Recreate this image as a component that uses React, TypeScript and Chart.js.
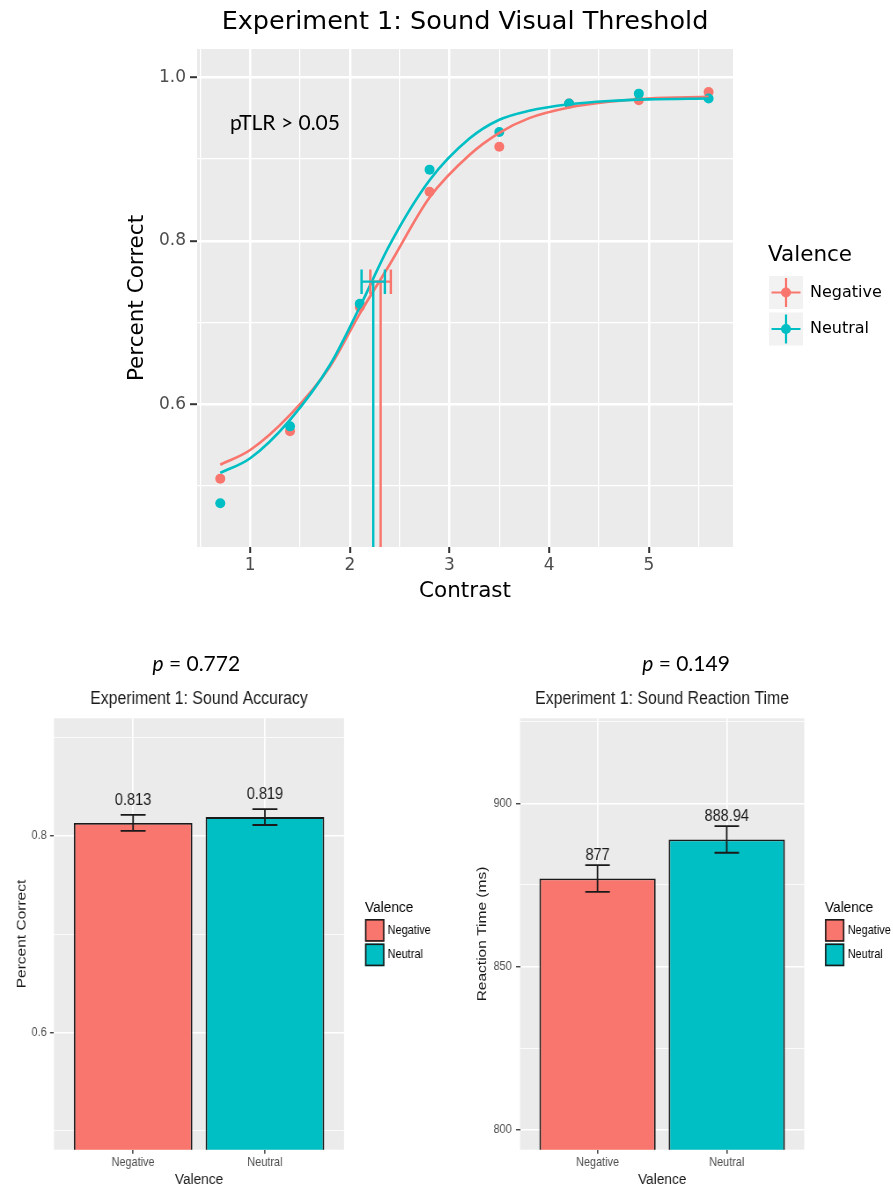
import React, { useEffect, useRef } from 'react';
import { Chart, registerables } from 'chart.js';

Chart.register(...registerables);

// ---------- shared ----------
const NEG = '#F8766D';
const NEU = '#00BFC4';
const groupNames = ['Negative', 'Neutral'];
const groupColors = [NEG, NEU];

const DJ = "'DejaVu Sans', sans-serif";
const LS = "'Liberation Sans', Arial, sans-serif";
const LATO = "Lato, 'Open Sans', sans-serif";

// ---------- top chart data (psychometric threshold) ----------
const contrastLevels = [0.7, 1.4, 2.1, 2.8, 3.5, 4.2, 4.9, 5.6];
const negativeCorrect = [0.509, 0.567, 0.719, 0.860, 0.915, 0.968, 0.972, 0.982];
const neutralCorrect = [0.479, 0.573, 0.723, 0.887, 0.933, 0.968, 0.980, 0.974];

const fitContrast = [0.7, 1.0, 1.4, 1.8, 2.1, 2.4, 2.8, 3.2, 3.5, 3.8, 4.2, 4.6, 5.0, 5.6];
const negativeFit = [0.526, 0.544, 0.587, 0.646, 0.711, 0.771, 0.853, 0.905, 0.932, 0.950, 0.963, 0.970, 0.974, 0.976];
const neutralFit = [0.516, 0.534, 0.581, 0.648, 0.719, 0.795, 0.874, 0.925, 0.948, 0.959, 0.967, 0.971, 0.973, 0.974];

const thresholdLevel = 0.75;
const thresholdValue = [2.309, 2.235];
const thresholdLow = [2.206, 2.118];
const thresholdHigh = [2.412, 2.352];
const thresholdCapHalf = 0.015;

const contrastMin = 0.4664;
const contrastMax = 5.845;
const contrastTicks = [0.5, 1, 1.5, 2, 2.5, 3, 3.5, 4, 4.5, 5, 5.5];
const contrastTickLabels = ['', '1', '', '2', '', '3', '', '4', '', '5', ''];
const correctMin = 0.4254;
const correctMax = 1.0346;
const correctTicks = [0.5, 0.6, 0.7, 0.8, 0.9, 1.0];
const correctTickLabels = ['', '0.6', '', '0.8', '', '1.0'];

// ---------- bottom charts data ----------
const valenceTicks = [1, 2];
const valenceMin = 0.4;
const valenceMax = 2.6;
const errCapHalf = 0.095;

const accuracyMeans = [0.813, 0.819];
const accuracySE = [0.0081, 0.0081];
const accuracyText = ['0.813', '0.819'];
const accuracyMin = 0.48057;
const accuracyMax = 0.91943;
const accuracyTicks = [0.5, 0.6, 0.7, 0.8, 0.9];
const accuracyTickLabels = ['', '0.6', '', '0.8', ''];

const rtMeans = [877, 888.94];
const rtSE = [4.1, 4.08];
const rtText = ['877', '888.94'];
const rtMin = 793.97;
const rtMax = 926.02;
const rtTicks = [800, 825, 850, 875, 900, 925];
const rtTickLabels = ['800', '', '850', '', '900', ''];

// ---------- helpers ----------
const pts = (xs: number[], ys: number[]) => xs.map((x, i) => ({ x, y: ys[i] }));

function thresholdPath(i: number) {
  const t = thresholdValue[i];
  const lo = thresholdLow[i];
  const hi = thresholdHigh[i];
  const l = thresholdLevel;
  const h = thresholdCapHalf;
  const gap = { x: t, y: null as any };
  return [
    { x: t, y: correctMin }, { x: t, y: l }, gap,
    { x: lo, y: l }, { x: hi, y: l }, gap,
    { x: lo, y: l - h }, { x: lo, y: l + h }, gap,
    { x: hi, y: l - h }, { x: hi, y: l + h },
  ];
}

function errPath(means: number[], se: number[]) {
  const out: any[] = [];
  valenceTicks.forEach((x, i) => {
    const hi = means[i] + se[i];
    const lo = means[i] - se[i];
    const gap = { x, y: null };
    out.push({ x: x - errCapHalf, y: hi }, { x: x + errCapHalf, y: hi }, gap);
    out.push({ x, y: hi }, { x, y: lo }, gap);
    out.push({ x: x - errCapHalf, y: lo }, { x: x + errCapHalf, y: lo }, gap);
  });
  return out;
}

const panelBg = {
  id: 'panelBg',
  beforeDraw(chart: any) {
    const { ctx, chartArea: a } = chart;
    ctx.save();
    ctx.fillStyle = '#EBEBEB';
    ctx.fillRect(a.left, a.top, a.right - a.left, a.bottom - a.top);
    ctx.restore();
  },
};

// ---------- top chart ----------
const TOP_W = 893;
const TOP_H = 630;
const topArea = { l: 197, t: 49, r: 733, b: 547 };

const topDecor = {
  id: 'topDecor',
  afterDraw(chart: any) {
    const { ctx, scales } = chart;
    ctx.save();
    ctx.font = `21px ${LATO}`;
    ctx.fillStyle = '#000';
    ctx.textAlign = 'center';
    ctx.textBaseline = 'middle';
    ctx.fillText('pTLR > 0.05', scales.x.getPixelForValue(1.349), scales.y.getPixelForValue(0.944));
    ctx.textAlign = 'left';
    ctx.font = `21.5px ${DJ}`;
    ctx.fillText('Valence', 768, 255);
    groupNames.forEach((g, i) => {
      const y0 = 276 + i * 36.5;
      const cx = 786;
      const cy = y0 + 16.5;
      ctx.fillStyle = '#F2F2F2';
      ctx.fillRect(769, y0, 34, 33);
      ctx.strokeStyle = groupColors[i];
      ctx.lineWidth = 2.2;
      ctx.beginPath();
      ctx.moveTo(771.5, cy);
      ctx.lineTo(800.5, cy);
      ctx.moveTo(cx, y0 + 2);
      ctx.lineTo(cx, y0 + 31);
      ctx.stroke();
      ctx.fillStyle = groupColors[i];
      ctx.beginPath();
      ctx.arc(cx, cy, 5, 0, Math.PI * 2);
      ctx.fill();
      ctx.fillStyle = '#000';
      ctx.font = `16px ${DJ}`;
      ctx.fillText(g, 810, cy);
    });
    ctx.restore();
  },
};

function topConfig(): any {
  const majorX = (c: any) => contrastTickLabels[c.index] !== '';
  const majorY = (c: any) => correctTickLabels[c.index] !== '';
  return {
    type: 'scatter',
    data: {
      datasets: [
        { type: 'scatter', label: 'Negative', data: pts(contrastLevels, negativeCorrect), pointBackgroundColor: NEG, pointBorderWidth: 0, pointRadius: 5, order: 6 },
        { type: 'scatter', label: 'Neutral', data: pts(contrastLevels, neutralCorrect), pointBackgroundColor: NEU, pointBorderWidth: 0, pointRadius: 5, order: 5 },
        { type: 'line', label: 'Negative fit', data: pts(fitContrast, negativeFit), borderColor: NEG, borderWidth: 2.6, pointRadius: 0, cubicInterpolationMode: 'monotone', fill: false, order: 4 },
        { type: 'line', label: 'Neutral fit', data: pts(fitContrast, neutralFit), borderColor: NEU, borderWidth: 2.6, pointRadius: 0, cubicInterpolationMode: 'monotone', fill: false, order: 3 },
        { type: 'line', label: 'Negative threshold', data: thresholdPath(0), borderColor: NEG, borderWidth: 2.4, pointRadius: 0, spanGaps: false, tension: 0, fill: false, order: 2 },
        { type: 'line', label: 'Neutral threshold', data: thresholdPath(1), borderColor: NEU, borderWidth: 2.4, pointRadius: 0, spanGaps: false, tension: 0, fill: false, order: 1 },
      ],
    },
    options: {
      responsive: false,
      animation: false,
      events: [],
      layout: { autoPadding: false, padding: { left: 0, top: 0, right: TOP_W - topArea.r, bottom: 0 } },
      plugins: {
        legend: { display: false },
        tooltip: { enabled: false },
        title: {
          display: true,
          text: 'Experiment 1: Sound Visual Threshold',
          fullSize: false,
          color: '#000',
          font: { family: DJ, size: 25.5, weight: 'normal' },
          padding: { top: 6.7, bottom: 11.7 },
        },
      },
      scales: {
        x: {
          type: 'linear', position: 'bottom', min: contrastMin, max: contrastMax, bounds: 'data', offset: false,
          afterBuildTicks: (s: any) => { s.ticks = contrastTicks.map((v) => ({ value: v })); },
          afterFit: (s: any) => { s.height = TOP_H - topArea.b; },
          ticks: { callback: (_v: any, i: number) => contrastTickLabels[i], color: '#4D4D4D', font: { family: DJ, size: 17 }, padding: 2, autoSkip: false, maxRotation: 0 },
          grid: { color: '#FFFFFF', lineWidth: (c: any) => (majorX(c) ? 2.4 : 1.2), tickLength: 6, tickWidth: 2, tickColor: (c: any) => (majorX(c) ? '#333333' : 'rgba(0,0,0,0)'), offset: false },
          border: { display: false },
          title: { display: true, text: 'Contrast', color: '#000', font: { family: DJ, size: 21.5 }, padding: { top: 0, bottom: 25.4 } },
        },
        y: {
          type: 'linear', position: 'left', min: correctMin, max: correctMax, bounds: 'data',
          afterBuildTicks: (s: any) => { s.ticks = correctTicks.map((v) => ({ value: v })); },
          afterFit: (s: any) => { s.width = topArea.l; },
          ticks: { callback: (_v: any, i: number) => correctTickLabels[i], color: '#4D4D4D', font: { family: DJ, size: 17 }, padding: 4, autoSkip: false },
          grid: { color: '#FFFFFF', lineWidth: (c: any) => (majorY(c) ? 2.4 : 1.2), tickLength: 7, tickWidth: 2, tickColor: (c: any) => (majorY(c) ? '#333333' : 'rgba(0,0,0,0)') },
          border: { display: false },
          title: { display: true, text: 'Percent Correct', color: '#000', font: { family: DJ, size: 21.5 }, padding: { top: 124.1, bottom: 0 } },
        },
      },
    },
    plugins: [panelBg, topDecor],
  };
}

// ---------- bottom bar charts ----------
const K = 0.88; // horizontal squeeze of the lower panels
const BAR_H = 547;

function barConfig(p: any): any {
  const majorY = (c: any) => p.tickLabels[c.index] !== '';
  const barText = {
    id: 'barText',
    afterDatasetsDraw(chart: any) {
      const { ctx, scales } = chart;
      ctx.save();
      ctx.font = `16.5px ${LS}`;
      ctx.fillStyle = '#1A1A1A';
      ctx.textAlign = 'center';
      ctx.textBaseline = 'middle';
      p.texts.forEach((t: string, i: number) => {
        ctx.fillText(t, scales.x.getPixelForValue(valenceTicks[i]), scales.y.getPixelForValue(p.means[i]) - 22.5);
      });
      ctx.restore();
    },
  };
  const barLegend = {
    id: 'barLegend',
    afterDraw(chart: any) {
      const ctx = chart.ctx;
      ctx.save();
      ctx.textAlign = 'left';
      ctx.textBaseline = 'middle';
      ctx.fillStyle = '#000';
      ctx.font = `15.5px ${LS}`;
      ctx.fillText('Valence', p.legendX, 267.5);
      groupNames.forEach((g, i) => {
        const y0 = 279 + i * 24.5;
        ctx.fillStyle = groupColors[i];
        ctx.fillRect(p.legendX, y0, 22, 22.7);
        ctx.strokeStyle = '#1A1A1A';
        ctx.lineWidth = 1.6;
        ctx.strokeRect(p.legendX + 0.8, y0 + 0.8, 22 - 1.6, 22.7 - 1.6);
        ctx.fillStyle = '#000';
        ctx.font = `12.4px ${LS}`;
        ctx.fillText(g, p.legendLabelX, y0 + 11.35);
      });
      ctx.restore();
    },
  };
  return {
    type: 'bar',
    data: {
      datasets: [
        {
          type: 'bar', label: p.yTitle,
          data: valenceTicks.map((x, i) => ({ x, y: p.means[i] })),
          backgroundColor: groupColors, borderColor: '#1A1A1A', borderWidth: 1.9, borderSkipped: 'start',
          barPercentage: 0.9, categoryPercentage: 1, clip: 0, order: 2,
        },
        {
          type: 'line', label: 'SE', data: errPath(p.means, p.se),
          borderColor: '#1A1A1A', borderWidth: 1.8, pointRadius: 0, spanGaps: false, fill: false, tension: 0, order: 1,
        },
      ],
    },
    options: {
      responsive: false,
      animation: false,
      events: [],
      layout: { autoPadding: false, padding: { left: 0, top: 0, right: p.W - p.area.r, bottom: 0 } },
      plugins: {
        legend: { display: false },
        tooltip: { enabled: false },
        title: {
          display: true, text: p.title, fullSize: false, color: '#1A1A1A',
          font: { family: LS, size: 18, weight: 'normal' }, padding: { top: 48.5, bottom: 8.2 },
        },
      },
      scales: {
        x: {
          type: 'linear', position: 'bottom', min: valenceMin, max: valenceMax, bounds: 'data', offset: false,
          afterBuildTicks: (s: any) => { s.ticks = valenceTicks.map((v) => ({ value: v })); },
          afterFit: (s: any) => { s.height = BAR_H - p.area.b; },
          ticks: { callback: (_v: any, i: number) => groupNames[i], color: '#4D4D4D', font: { family: LS, size: 12.4 }, padding: 1.2, autoSkip: false, maxRotation: 0 },
          grid: { color: '#FFFFFF', lineWidth: 1.7, tickLength: 4, tickWidth: 1.4, tickColor: '#333333', offset: false },
          border: { display: false },
          title: { display: true, text: 'Valence', color: '#1A1A1A', font: { family: LS, size: 15.5, lineHeight: 1 }, padding: { top: 0, bottom: 0 } },
        },
        y: {
          type: 'linear', position: 'left', min: p.yMin, max: p.yMax, bounds: 'data', beginAtZero: false,
          afterBuildTicks: (s: any) => { s.ticks = p.ticks.map((v: number) => ({ value: v })); },
          afterFit: (s: any) => { s.width = p.area.l; },
          ticks: { callback: (_v: any, i: number) => p.tickLabels[i], color: '#4D4D4D', font: { family: LS, size: 12.4 }, padding: p.tickPad, autoSkip: false },
          grid: { color: '#FFFFFF', lineWidth: (c: any) => (majorY(c) ? 1.5 : 0.8), tickLength: 4.5, tickWidth: 1.3, tickColor: (c: any) => (majorY(c) ? '#333333' : 'rgba(0,0,0,0)') },
          border: { display: false },
          title: { display: true, text: p.yTitle, color: '#1A1A1A', font: { family: LS, size: 15.5 }, padding: { top: p.yTitlePad, bottom: 0 } },
        },
      },
    },
    plugins: [panelBg, barText, barLegend],
  };
}

const accuracySpec = {
  W: 512, area: { l: 61.36, t: 78.3, r: 390.9, b: 509.7 },
  means: accuracyMeans, se: accuracySE, texts: accuracyText,
  yMin: accuracyMin, yMax: accuracyMax, ticks: accuracyTicks, tickLabels: accuracyTickLabels,
  title: 'Experiment 1: Sound Accuracy', yTitle: 'Percent Correct', yTitlePad: 15.4, tickPad: 3.8,
  legendX: 414.8, legendLabelX: 440.6,
};

const rtSpec = {
  W: 504, area: { l: 79.55, t: 78.3, r: 402.6, b: 509.7 },
  means: rtMeans, se: rtSE, texts: rtText,
  yMin: rtMin, yMax: rtMax, ticks: rtTicks, tickLabels: rtTickLabels,
  title: 'Experiment 1: Sound Reaction Time', yTitle: 'Reaction Time (ms)', yTitlePad: 27.4, tickPad: 4.9,
  legendX: 426.1, legendLabelX: 451.9,
};

// ---------- components ----------
function ChartCanvas(props: { x: number; y: number; w: number; h: number; sx: number; make: () => any }) {
  const ref = useRef<HTMLCanvasElement>(null);
  useEffect(() => {
    if (!ref.current) return;
    const chart = new Chart(ref.current, props.make());
    return () => chart.destroy();
  }, []);
  return (
    <canvas
      ref={ref}
      width={props.w}
      height={props.h}
      style={{
        position: 'absolute', left: props.x, top: props.y, width: props.w, height: props.h,
        transform: `scaleX(${props.sx})`, transformOrigin: '0 0',
      }}
    />
  );
}

const pStyle = (cx: number): React.CSSProperties => ({
  position: 'absolute', left: cx - 100, top: 649.7, width: 200, height: 26, lineHeight: '26px',
  textAlign: 'center', fontFamily: LATO, fontSize: 21, color: '#000', whiteSpace: 'nowrap',
});

export default function App() {
  useEffect(() => {
    document.body.style.margin = '0';
    document.body.style.overflow = 'hidden';
  }, []);
  return (
    <div style={{ position: 'absolute', left: 0, top: 0, width: 893, height: 1187, background: '#FFFFFF', overflow: 'hidden' }}>
      <ChartCanvas x={0} y={0} w={TOP_W} h={TOP_H} sx={1} make={topConfig} />
      <ChartCanvas x={0} y={640} w={accuracySpec.W} h={BAR_H} sx={K} make={() => barConfig(accuracySpec)} />
      <ChartCanvas x={450} y={640} w={rtSpec.W} h={BAR_H} sx={K} make={() => barConfig(rtSpec)} />
      <div style={pStyle(196.3)}><i>p</i> = 0.772</div>
      <div style={pStyle(686)}><i>p</i> = 0.149</div>
    </div>
  );
}
